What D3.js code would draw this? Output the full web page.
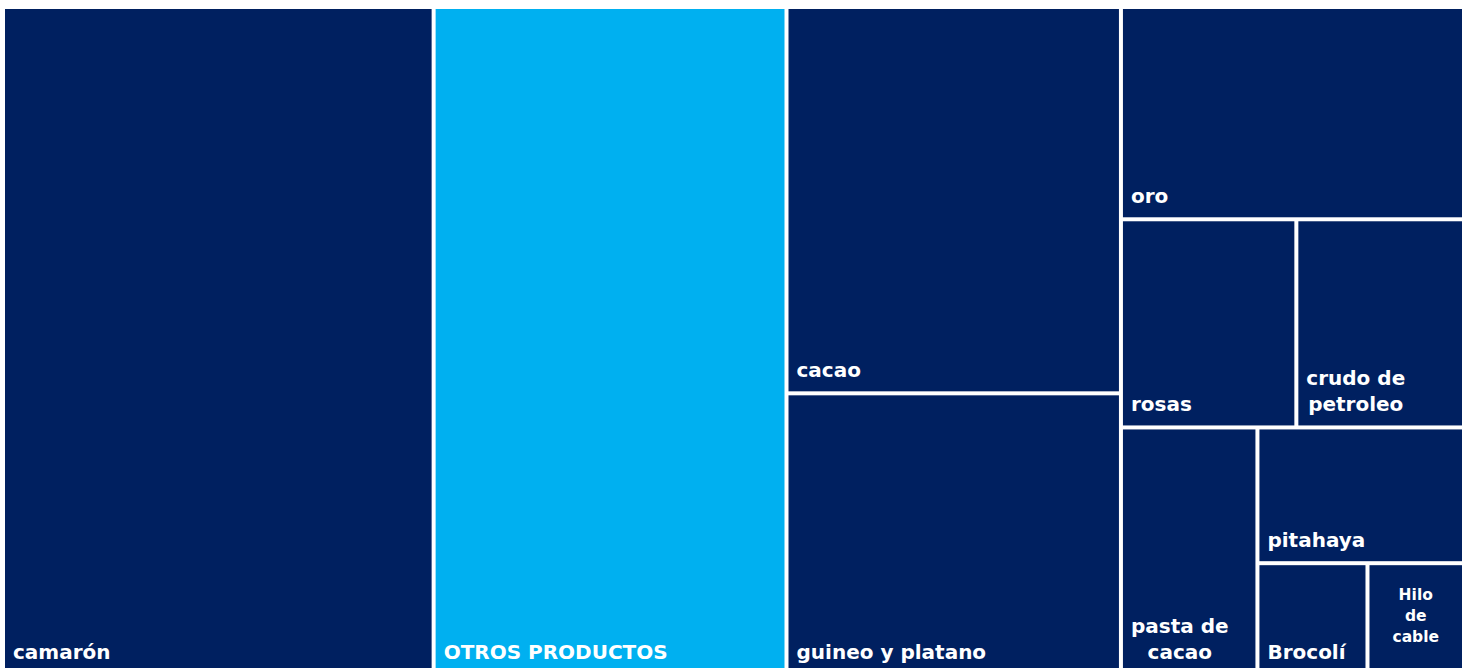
<!DOCTYPE html>
<html>
<head>
<meta charset="utf-8">
<script src="https://cdn.jsdelivr.net/npm/d3@7"></script>
<style>
  html, body { margin: 0; padding: 0; background: #ffffff; overflow: hidden; }
  svg { display: block; }
</style>
</head>
<body>
<div id="chart"></div>
<script>
// productos y valores (estimados a partir del área de cada bloque)
var products = ['camarón', 'OTROS PRODUCTOS', 'cacao', 'guineo y platano', 'oro', 'rosas',
    'crudo de petroleo', 'pasta de cacao', 'pitahaya', 'Brocolí', 'Hilo de cable'];
var values = [2852, 2337, 1281, 934, 722, 362, 346, 335, 278, 122, 107];
// etiquetas tal como se ven partidas en líneas
var labels = [['camarón'], ['OTROS PRODUCTOS'], ['cacao'], ['guineo y platano'], ['oro'], ['rosas'],
    ['crudo de', 'petroleo'], ['pasta de', 'cacao'], ['pitahaya'], ['Brocolí'], ['Hilo', 'de', 'cable']];
var highlighted = ['OTROS PRODUCTOS'];

var width = 1467;
var height = 668;
var margin = { left: 5, top: 9, right: 5 };
var areaHeight = 664;

var data = products.map(function (p, i) {
    return { name: p, value: values[i], lines: labels[i] };
});

var root = d3.hierarchy({ children: data })
    .sum(function (d) { return d.value || 0; })
    .sort(function (a, b) { return b.value - a.value; });

d3.treemap()
    .tile(d3.treemapSquarify.ratio(1))
    .size([width - margin.left - margin.right, areaHeight])
    .paddingInner(4)
    (root);

var svg = d3.select('#chart').append('svg')
    .attr('width', width)
    .attr('height', height);

var g = svg.append('g')
    .attr('transform', 'translate(' + margin.left + ', ' + margin.top + ')');

var cell = g.selectAll('g.cell')
    .data(root.leaves())
    .enter().append('g')
    .attr('class', 'cell');

cell.append('rect')
    .attr('x', function (d) { return d.x0; })
    .attr('y', function (d) { return d.y0; })
    .attr('width', function (d) { return d.x1 - d.x0; })
    .attr('height', function (d) { return d.y1 - d.y0; })
    .attr('fill', function (d) {
        return highlighted.indexOf(d.data.name) >= 0 ? '#00b0f0' : '#002060';
    });

cell.each(function (d) {
    var w = d.x1 - d.x0;
    var small = w < 100;
    var fontSize = small ? 15.5 : 20;
    var lineH = small ? 21 : 26;
    var lines = d.data.lines;
    var text = d3.select(this).append('text')
        .attr('fill', '#ffffff')
        .style('font-family', '"DejaVu Sans", sans-serif')
        .style('font-weight', 'bold')
        .style('font-size', fontSize + 'px');

    if (small) {
        // bloque pequeño: texto centrado
        var cy = (d.y0 + d.y1) / 2 - (lines.length - 1) * lineH / 2 + fontSize * 0.35 - 4;
        lines.forEach(function (l, i) {
            text.append('tspan')
                .attr('x', (d.x0 + d.x1) / 2)
                .attr('y', cy + i * lineH)
                .attr('text-anchor', 'middle')
                .text(l);
        });
    } else {
        var spans = lines.map(function (l, i) {
            return text.append('tspan')
                .attr('y', d.y1 - 14 - (lines.length - 1 - i) * lineH)
                .text(l);
        });
        var widths = spans.map(function (s) { return s.node().getComputedTextLength(); });
        var maxW = d3.max(widths);
        spans.forEach(function (s, i) {
            s.attr('x', d.x0 + 8 + (maxW - widths[i]) / 2);
        });
    }
});
</script>
</body>
</html>
